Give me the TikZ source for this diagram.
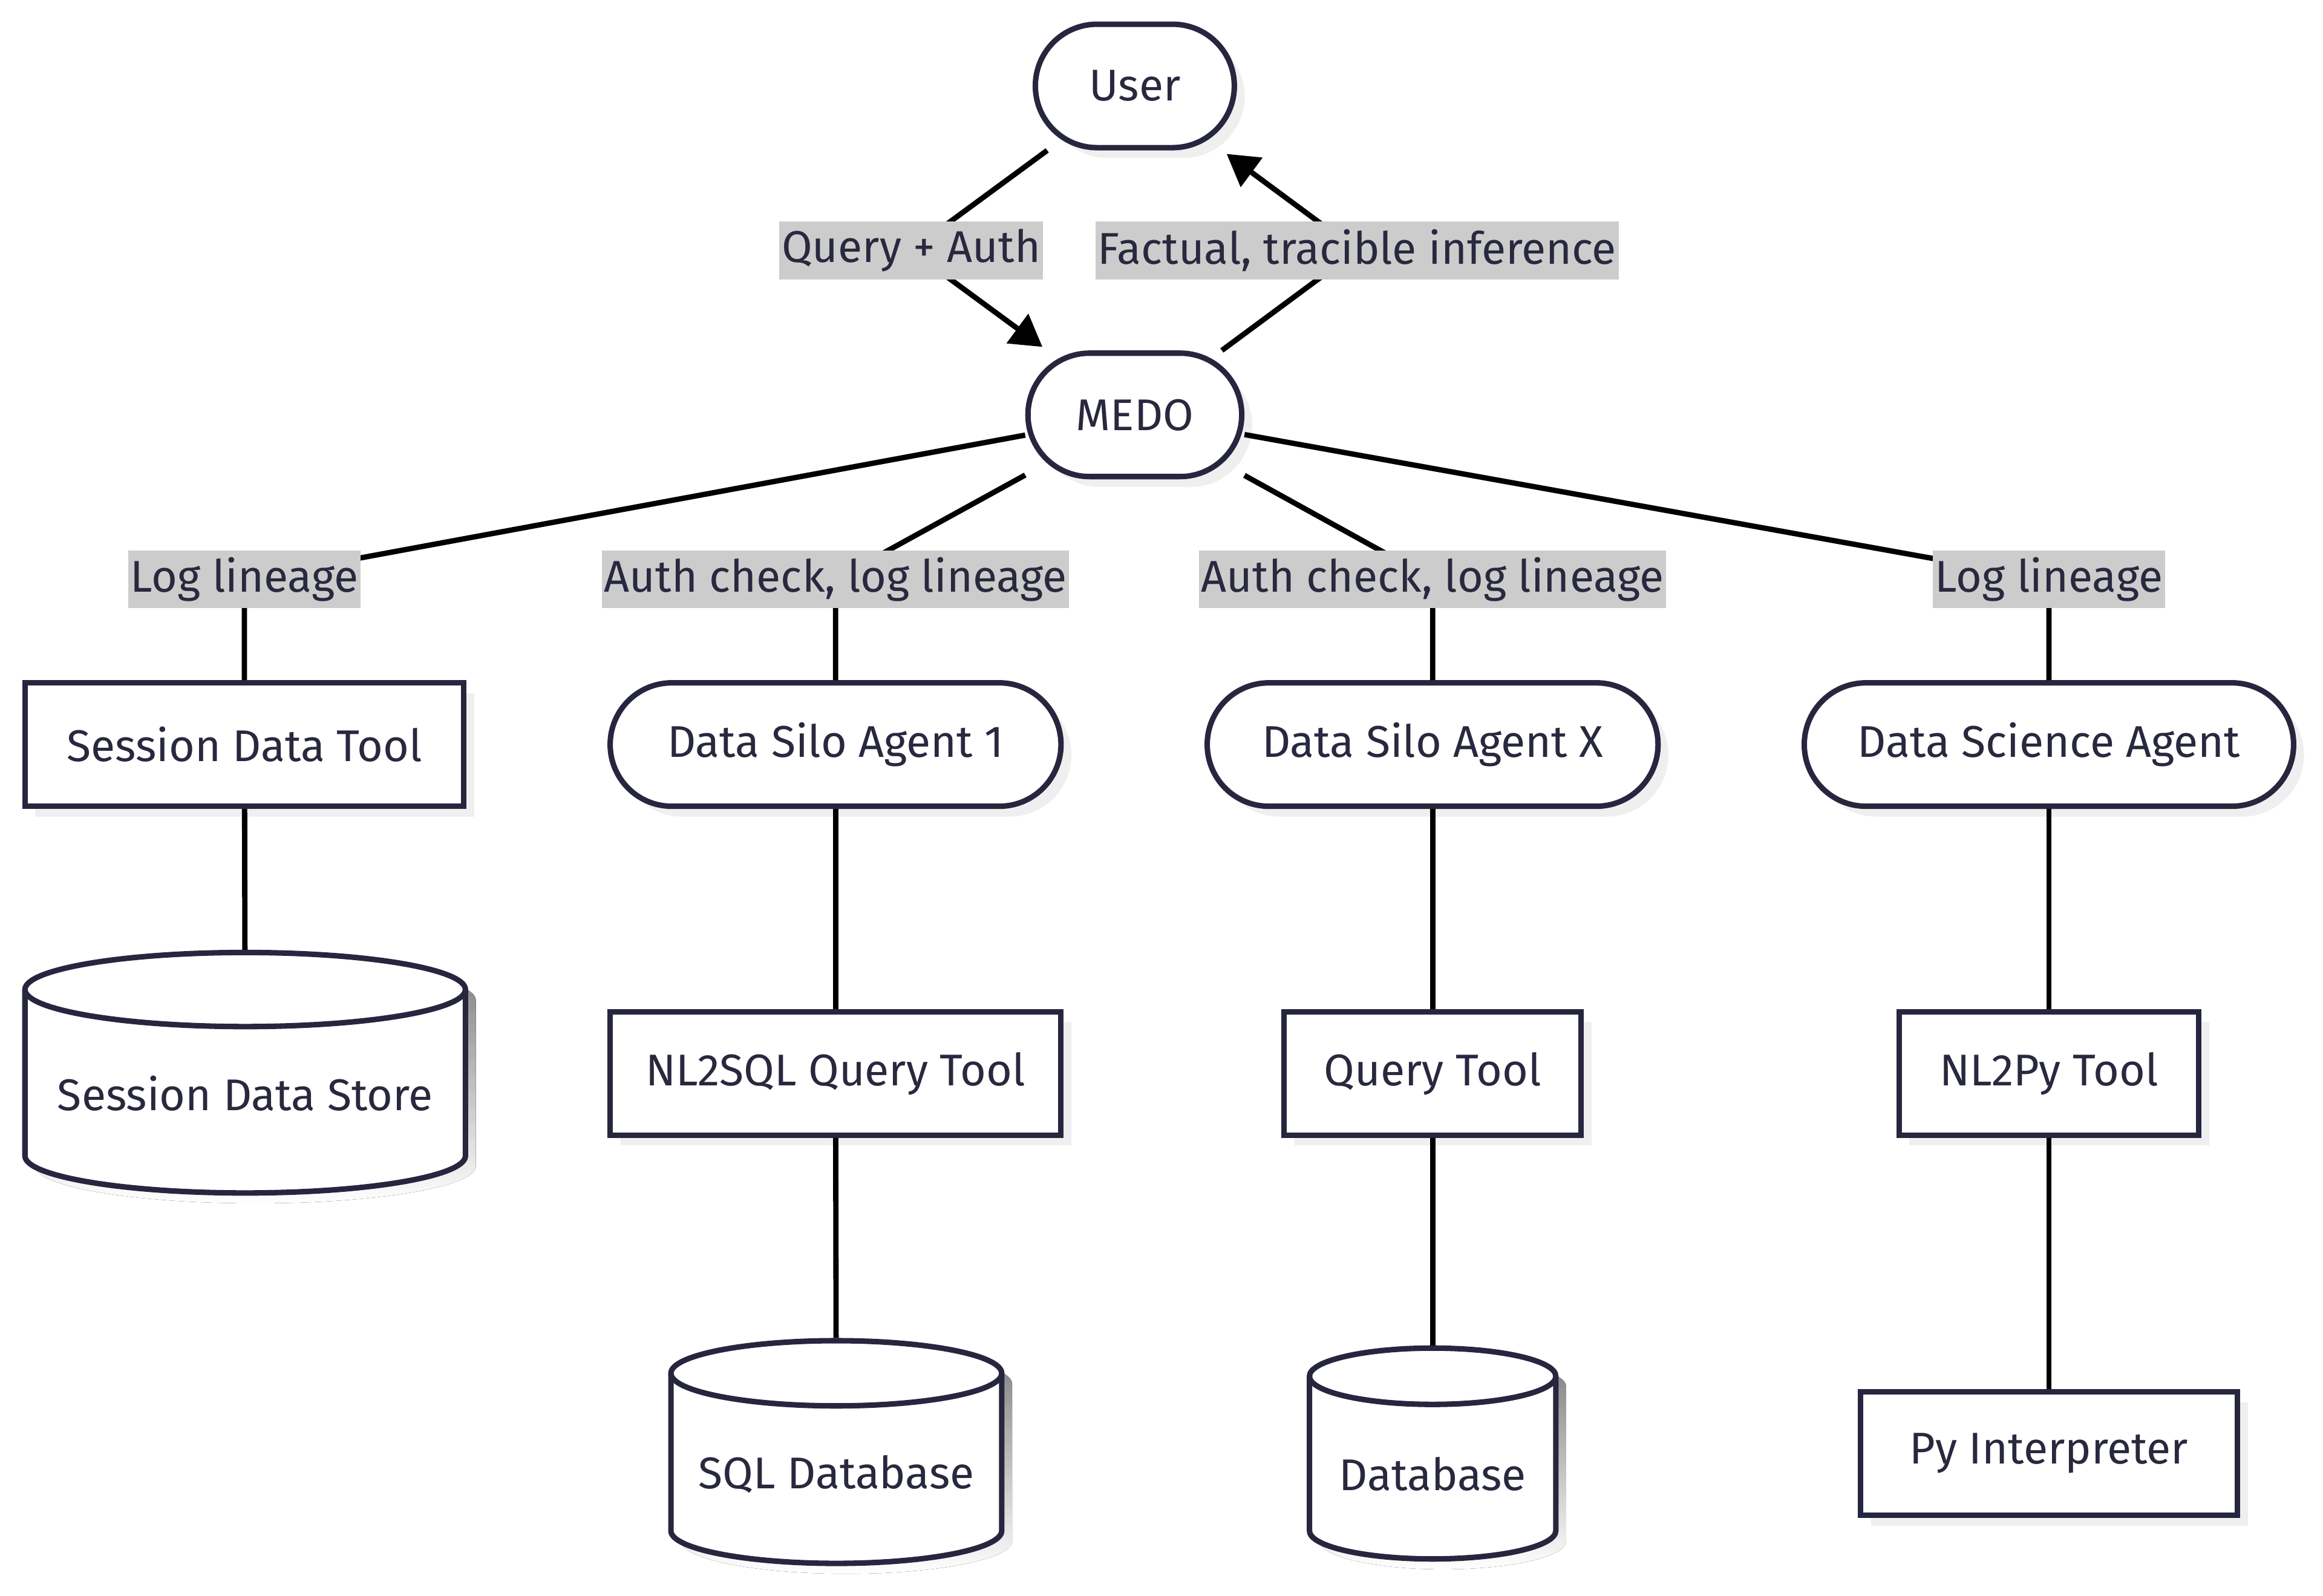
\documentclass[tikz,border=0pt]{standalone}
\usepackage{fontspec}
\setmainfont{Fira Sans}
\usetikzlibrary{arrows.meta,shadows}
\definecolor{ink}{RGB}{40,40,62}
\definecolor{bord}{RGB}{38,38,62}
\definecolor{shade}{RGB}{239,239,239}
\definecolor{lblbg}{RGB}{204,204,204}
\pgfdeclarelayer{fg}
\pgfsetlayers{main,fg}
\newcommand\nodefont{\fontsize{30}{35}\selectfont}
\tikzset{
  base/.style={draw=bord, line width=3.7pt, fill=white, text=ink, font=\nodefont,
    minimum height=83.3pt, inner sep=0pt,
    drop shadow={shadow xshift=7pt, shadow yshift=-7pt, fill=shade, opacity=1, draw=none}},
  box/.style={base, rectangle},
  pill/.style={base, rectangle, rounded corners=41.6pt},
  lbl/.style={fill=lblbg, text=ink, font=\nodefont, inner xsep=1.5pt, inner ysep=0pt, minimum height=39pt},
  edge/.style={line width=3.6pt, draw=black},
  tip/.style={-{Triangle[length=21pt,width=24pt]}, shorten >=4pt},
  cylbody/.style={draw=bord, line width=3.7pt, fill=white, line join=round},
}
% name, cx, ytop, w, h, ry, text y, text
\newcommand\cylnode[8]{%
  \fill[shade, shift={(7pt,-7pt)}] ({#2-#4/2},{#3+#6}) -- ({#2-#4/2},{#3+#5-#6})
    arc[start angle=180, end angle=360, x radius=#4pt/2, y radius=#6pt]
    -- ({#2+#4/2},{#3+#6})
    arc[start angle=0, end angle=180, x radius=#4pt/2, y radius=#6pt] -- cycle;
  \path[cylbody] ({#2-#4/2},{#3+#6}) -- ({#2-#4/2},{#3+#5-#6})
    arc[start angle=180, end angle=360, x radius=#4pt/2, y radius=#6pt]
    -- ({#2+#4/2},{#3+#6})
    arc[start angle=0, end angle=180, x radius=#4pt/2, y radius=#6pt] -- cycle;
  \draw[cylbody, fill=none] ({#2-#4/2},{#3+#6})
    arc[start angle=180, end angle=360, x radius=#4pt/2, y radius=#6pt];
  \node[draw=none, minimum width=#4pt, minimum height=#5pt, inner sep=0pt, outer sep=1.85pt] (#1) at (#2,{#3+#5/2}) {};
  \node[text=ink, font=\nodefont, inner sep=0pt] (#1-t) at (#2,#7) {#8};
}
\begin{document}
\begin{tikzpicture}[x=1pt,y=-1pt]
\useasboundingbox (0,0) rectangle (1568,1077);
% nodes
\node[pill, minimum width=134.3pt] (user) at (766,58) {User};
\node[pill, minimum width=144.3pt] (medo) at (766,280) {MEDO};
\node[box, minimum width=296.3pt] (sdt) at (165,502.5) {Session Data Tool};
\node[pill, minimum width=304.3pt] (dsa1) at (564,502.5) {Data Silo Agent 1};
\node[pill, minimum width=304.3pt] (dsax) at (967,502.5) {Data Silo Agent X};
\node[pill, minimum width=330.3pt] (dsa) at (1383,502.5) {Data Science Agent};
\node[box, minimum width=304.3pt] (nl2sql) at (564,724.5) {NL2SQL Query Tool};
\node[box, minimum width=200.3pt] (qt) at (967,724.5) {Query Tool};
\node[box, minimum width=202.3pt] (nl2py) at (1383,724.5) {NL2Py Tool};
\node[box, minimum width=254.3pt] (py) at (1383,981) {Py Interpreter};
\cylnode{sds}{165.5}{642.85}{297.3}{162.3}{25}{738}{Session Data Store}
\cylnode{sqldb}{564.5}{904.85}{223.3}{150.3}{22}{995}{SQL Database}
\cylnode{db}{967}{909.85}{166.3}{142.3}{19}{995}{Database}
% edge labels
\begin{pgfonlayer}{fg}
\node[lbl] (lq) at (615,169) {Query + Auth};
\node[lbl] (lf) at (916,169) {Factual, tracible inference};
\node[lbl] (l1) at (165,391) {Log lineage};
\node[lbl] (l2) at (564,391) {Auth check, log lineage};
\node[lbl] (l3) at (967,391) {Auth check, log lineage};
\node[lbl] (l4) at (1383,391) {Log lineage};
\end{pgfonlayer}
% edges
\draw[edge, tip] (user) -- (lq.center) -- (medo);
\draw[edge, tip] (medo) -- (lf.center) -- (user);
\draw[edge] (medo) -- (l1.center) -- (sdt);
\draw[edge] (medo) -- (l2.center) -- (dsa1);
\draw[edge] (medo) -- (l3.center) -- (dsax);
\draw[edge] (medo) -- (l4.center) -- (dsa);
\draw[edge] (sdt) -- (sds);
\draw[edge] (dsa1) -- (nl2sql);
\draw[edge] (nl2sql) -- (sqldb);
\draw[edge] (dsax) -- (qt);
\draw[edge] (qt) -- (db);
\draw[edge] (dsa) -- (nl2py);
\draw[edge] (nl2py) -- (py);
\end{tikzpicture}
\end{document}
